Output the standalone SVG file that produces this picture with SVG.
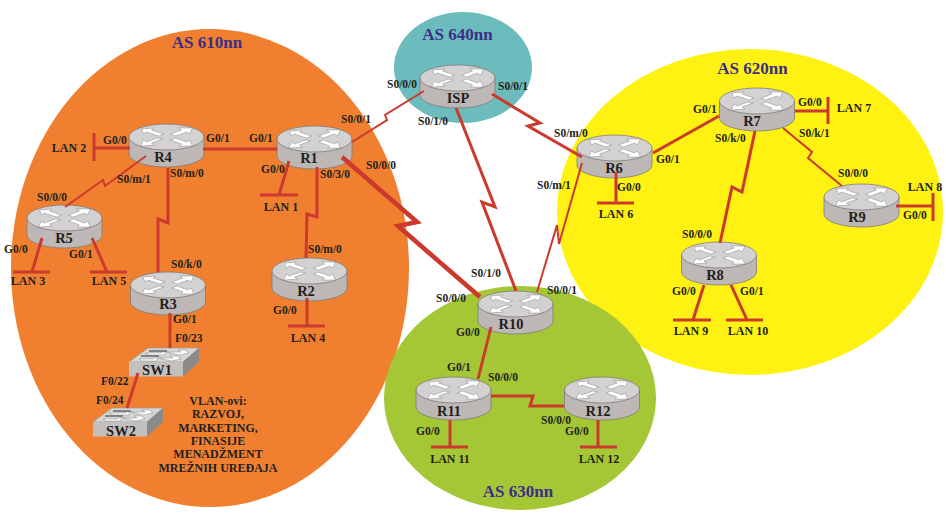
<svg xmlns="http://www.w3.org/2000/svg" xmlns:xlink="http://www.w3.org/1999/xlink" width="946" height="525" viewBox="0 0 946 525">
<style>
text{font-family:"Liberation Serif","Times New Roman",serif;font-weight:bold;fill:#231f20;font-size:11.5px}
.n{font-size:14.5px;text-anchor:middle}
.l{font-size:12px;text-anchor:middle}
.as{font-size:17px;fill:#3c2f86;text-anchor:middle}
.c{fill:none;stroke:#cb3a2c;stroke-width:3;stroke-linejoin:miter}
.t{stroke-width:2}.h{stroke-width:4.6}
.b{fill:#bdb8b6;stroke:#7f7b7a;stroke-width:.8}
.top{fill:#d3d1d1;stroke:#7f7b7a;stroke-width:.8}
.ar{fill:#fff;stroke:#6e6e6e;stroke-width:.4}
.d{fill:none;stroke:#333;stroke-width:1.1}
</style>
<defs>
<g id="router">
<path class="b" d="M-37.500 0V17A37.500 13 0 0 0 37.500 17V0Z"/>
<ellipse class="top" rx="37.500" ry="13"/>
<path class="ar" d="M-25-8L-13-9L-15-7L-3-3L-8-1L-20-5L-23-3ZM4-3L15-7L12-9L26-9L23-3L20-5L9-1ZM-4 2L-15 6L-12 8L-26 9L-23 3L-20 5L-9 1ZM4 3L9 1L20 5L23 3L26 9L13 9L15 7Z"/>
</g>
<g id="switch">
<path d="M0 14L19 0H70L54 14Z" fill="#d6d6d6" stroke="#999" stroke-width=".7"/>
<path d="M0 14H54V28.500H0Z" fill="#c3bfbd"/>
<path d="M54 14L70 0V14L54 28.500Z" fill="#8c8a89"/>
<path class="ar" d="M10 11H24L28 9V13H13ZM16 5H32L36 3V7H20Z"/>
<path class="ar" d="M30 10H44L41 8H48L52 11L42 13ZM38 4H52L49 2H56L60 5L50 7Z"/>
<path class="d" d="M12 8H30M20 3H38"/>
</g>
</defs>

<g id="areas">
<ellipse id="as610" cx="210" cy="268" rx="199" ry="239" fill="#f17f30"/>
<ellipse id="as640" cx="463" cy="67.500" rx="69" ry="55.500" fill="#6dbcbd"/>
<ellipse id="as620" cx="750" cy="212" rx="193" ry="163" fill="#fff212"/>
<ellipse id="as630" cx="520" cy="398" rx="136" ry="112" fill="#a5c736"/>
</g>

<g id="R4"><use xlink:href="#router" x="166.500" y="137"/><text class="n" x="163" y="162">R4</text></g>
<g id="R1"><use xlink:href="#router" x="314.500" y="139"/><text class="n" x="309" y="163">R1</text></g>
<g id="R5"><use xlink:href="#router" x="64.500" y="218"/><text class="n" x="64" y="243">R5</text></g>
<g id="R3"><use xlink:href="#router" x="168" y="285"/><text class="n" x="168" y="309">R3</text></g>
<g id="R2"><use xlink:href="#router" x="309.500" y="271"/><text class="n" x="306" y="296">R2</text></g>
<g id="ISP"><use xlink:href="#router" x="457.500" y="78"/><text class="n" x="458" y="103">ISP</text></g>
<g id="R10"><use xlink:href="#router" x="515.500" y="304"/><text class="n" x="511" y="329">R10</text></g>
<g id="R11"><use xlink:href="#router" x="453.500" y="390"/><text class="n" x="449" y="416">R11</text></g>
<g id="R12"><use xlink:href="#router" x="602" y="390"/><text class="n" x="598" y="416">R12</text></g>
<g id="R6"><use xlink:href="#router" x="614.500" y="148"/><text class="n" x="614" y="173">R6</text></g>
<g id="R7"><use xlink:href="#router" x="757" y="101"/><text class="n" x="752" y="126">R7</text></g>
<g id="R8"><use xlink:href="#router" x="719" y="255"/><text class="n" x="715" y="280">R8</text></g>
<g id="R9"><use xlink:href="#router" x="861.500" y="197"/><text class="n" x="857" y="222">R9</text></g>
<g id="SW1"><use xlink:href="#switch" x="129" y="348"/><text class="n" x="157" y="375">SW1</text></g>
<g id="SW2"><use xlink:href="#switch" x="93" y="408"/><text class="n" x="121" y="436">SW2</text></g>

<g id="connectors">
<path class="c" d="M203 149H277"/>
<path class="c t" d="M146 156L105 186L103 180L65 207"/>
<path class="c" d="M168 168V223L158 219V272"/>
<path class="c" d="M170 313V348"/>
<path class="c" d="M138 373L127 408"/>
<path class="c" d="M130 148H94M94 133V161"/>
<path class="c" d="M42 238L32 272M13 272H50"/>
<path class="c" d="M92 238L107 272M90 272H127"/>
<path class="c" d="M289 161L279 195M260 195H298"/>
<path class="c" d="M317 167V217L307 214L306 258"/>
<path class="c" d="M307 298V326M288 326H325"/>
<path class="c t" d="M352 142L387 120L385 115L424 91"/>
<path class="c" d="M492 94L540 123L528 126L582 157"/>
<path class="c" d="M456 108L495 207L482 202L516 291"/>
<path class="c h" d="M342 157L417 222L398 226L480 297"/>
<path class="c t" d="M582 163L559 244L557 225L537 292"/>
<path class="c" d="M653 153L719 116"/>
<path class="c" d="M755 131L742 192L732 187L720 243"/>
<path class="c" d="M795 111H828M828 97V124"/>
<path class="c t" d="M783 128L812 152L808 158L842 186"/>
<path class="c" d="M896 206H933M933 193V221"/>
<path class="c" d="M616 172V203M597 203H634"/>
<path class="c" d="M704 285L693 320M673 320H711"/>
<path class="c" d="M731 285L747 320M726 320H763"/>
<path class="c" d="M491 327L478 379"/>
<path class="c" d="M491 396H533L530 406H564"/>
<path class="c" d="M450 420V447M431 447H468"/>
<path class="c" d="M598 420V447M580 447H617"/>
</g>

<g id="labels">
<text class="as" x="207" y="48">AS 610nn</text>
<text class="as" x="457.500" y="40">AS 640nn</text>
<text class="as" x="752.500" y="74">AS 620nn</text>
<text class="as" x="518" y="497">AS 630nn</text>

<text x="103" y="144">G0/0</text><text x="206" y="142">G0/1</text><text x="249" y="142">G0/1</text>
<text x="261" y="173">G0/0</text><text x="170" y="177">S0/m/0</text><text x="117" y="183">S0/m/1</text>
<text x="37" y="201">S0/0/0</text><text x="4" y="253">G0/0</text><text x="69" y="258">G0/1</text>
<text x="171" y="268">S0/k/0</text><text x="173" y="323">G0/1</text><text x="175" y="342">F0/23</text>
<text x="101" y="385">F0/22</text><text x="96" y="404">F0/24</text>
<text x="341" y="123">S0/0/1</text><text x="366" y="169">S0/0/0</text><text x="320" y="178">S0/3/0</text>
<text x="308" y="253">S0/m/0</text><text x="273" y="314">G0/0</text>
<text x="387" y="88">S0/0/0</text><text x="498" y="90">S0/0/1</text><text x="418" y="125">S0/1/0</text>
<text x="554" y="137">S0/m/0</text><text x="537" y="189">S0/m/1</text>
<text x="471" y="277">S0/1/0</text><text x="436" y="302">S0/0/0</text><text x="547" y="294">S0/0/1</text>
<text x="456" y="336">G0/0</text><text x="447" y="371">G0/1</text><text x="488" y="381">S0/0/0</text>
<text x="541" y="424">S0/0/0</text><text x="565" y="435">G0/0</text><text x="416" y="435">G0/0</text>
<text x="656" y="163">G0/1</text><text x="617" y="191">G0/0</text>
<text x="693" y="113">G0/1</text><text x="798" y="106">G0/0</text><text x="799" y="137">S0/k/1</text>
<text x="715" y="142">S0/k/0</text><text x="838" y="177">S0/0/0</text><text x="903" y="219">G0/0</text>
<text x="682" y="238">S0/0/0</text><text x="672" y="295">G0/0</text><text x="740" y="295">G0/1</text>

<text class="l" x="69" y="152">LAN 2</text><text class="l" x="281" y="211">LAN 1</text>
<text class="l" x="28" y="285">LAN 3</text><text class="l" x="109" y="285">LAN 5</text>
<text class="l" x="308" y="342">LAN 4</text><text class="l" x="616" y="218">LAN 6</text>
<text class="l" x="854" y="112">LAN 7</text><text class="l" x="925" y="191">LAN 8</text>
<text class="l" x="691" y="335">LAN 9</text><text class="l" x="748" y="335">LAN 10</text>
<text class="l" x="450" y="463">LAN 11</text><text class="l" x="599" y="463">LAN 12</text>

<text class="l" x="218" y="405">VLAN-ovi:</text><text class="l" x="218" y="418">RAZVOJ,</text>
<text class="l" x="218" y="432">MARKETING,</text><text class="l" x="218" y="445">FINASIJE</text>
<text class="l" x="218" y="458">MENADŽMENT</text><text class="l" x="218" y="472">MREŽNIH UREĐAJA</text>
</g>
</svg>
